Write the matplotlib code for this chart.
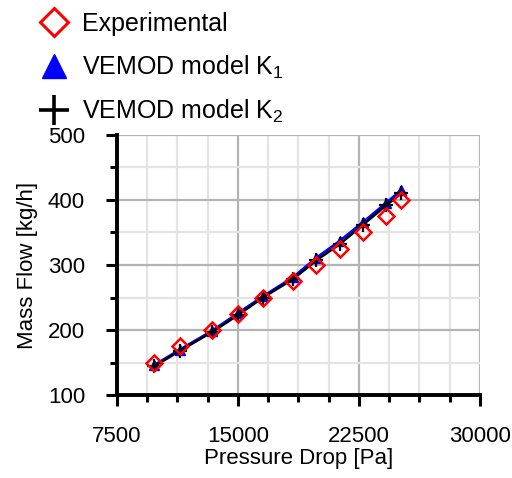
import matplotlib

matplotlib.use("Agg")
import matplotlib.pyplot as plt
from matplotlib.lines import Line2D
from matplotlib.ticker import MultipleLocator

plt.rcParams["font.family"] = ["Liberation Sans", "DejaVu Sans"]
plt.rcParams["mathtext.fontset"] = "custom"
plt.rcParams["mathtext.rm"] = "Liberation Sans"
plt.rcParams["mathtext.it"] = "Liberation Sans"

# pressure drop [Pa] and mass flow [kg/h]
dp_exp = [9800, 11400, 13400, 15000, 16550, 18400, 19850, 21300, 22750, 24200, 25100]
mf_exp = [150, 175, 200, 225, 250, 275, 300, 325, 350, 375, 400]
mf_k1 = [146, 170, 199, 226, 252, 281, 311, 337, 366, 396, 415]
mf_k2 = [144, 168, 197, 223, 250, 278, 307, 332, 362, 392, 410]

labels = ["Experimental", r"VEMOD model K$_1$", r"VEMOD model K$_2$"]

fig = plt.figure(figsize=(5.12, 4.78), dpi=100)
ax = fig.add_axes([0.2285, 0.1736, 0.709, 0.544])

ax.plot(dp_exp, mf_k1, color="#0000ff", lw=1.8, marker="^", ms=7, mec="#0000ff",
        mfc="#0000ff", zorder=3)
ax.plot(dp_exp, mf_k2, color="black", lw=1.8, marker="+", ms=10, mew=1.6, zorder=4)
ax.plot(dp_exp, mf_exp, ls="none", marker="D", ms=8, mfc="none", mec="#ff0000",
        mew=1.8, zorder=5)

ax.set_xlim(7500, 30000)
ax.set_ylim(100, 500)
ax.xaxis.set_major_locator(MultipleLocator(7500))
ax.xaxis.set_minor_locator(MultipleLocator(1875))
ax.yaxis.set_major_locator(MultipleLocator(100))
ax.yaxis.set_minor_locator(MultipleLocator(50))

ax.grid(which="major", color="#b4b4b4", lw=1.6)
ax.grid(which="minor", color="#e4e4e4", lw=1.6)
ax.set_axisbelow(True)

for side in ("top", "right"):
    ax.spines[side].set_visible(False)
for side in ("left", "bottom"):
    ax.spines[side].set_linewidth(2.8)
    ax.spines[side].set_zorder(6)

ax.tick_params(which="major", direction="out", length=8, width=2.2, labelsize=16, pad=14)
ax.tick_params(which="minor", direction="out", length=5, width=2.2)
ax.tick_params(axis="y", which="major", pad=15)

ax.set_xlabel("Pressure Drop [Pa]", fontsize=16, labelpad=1)
ax.set_ylabel("Mass Flow [kg/h]", fontsize=16, labelpad=7)

handles = [
    Line2D([], [], ls="none", marker="D", ms=14, mfc="none", mec="#ff0000", mew=2.2),
    Line2D([], [], ls="none", marker="^", ms=17, color="#0000ff"),
    Line2D([], [], ls="none", marker="+", ms=22, mew=2.6, color="black"),
]
fig.legend(handles, labels, loc="upper left", bbox_to_anchor=(0.073, 0.975),
           frameon=False, fontsize=18, handlelength=1.3, handletextpad=0.5,
           labelspacing=0.7, borderpad=0, borderaxespad=0)

fig.savefig("out.png", dpi=100)
